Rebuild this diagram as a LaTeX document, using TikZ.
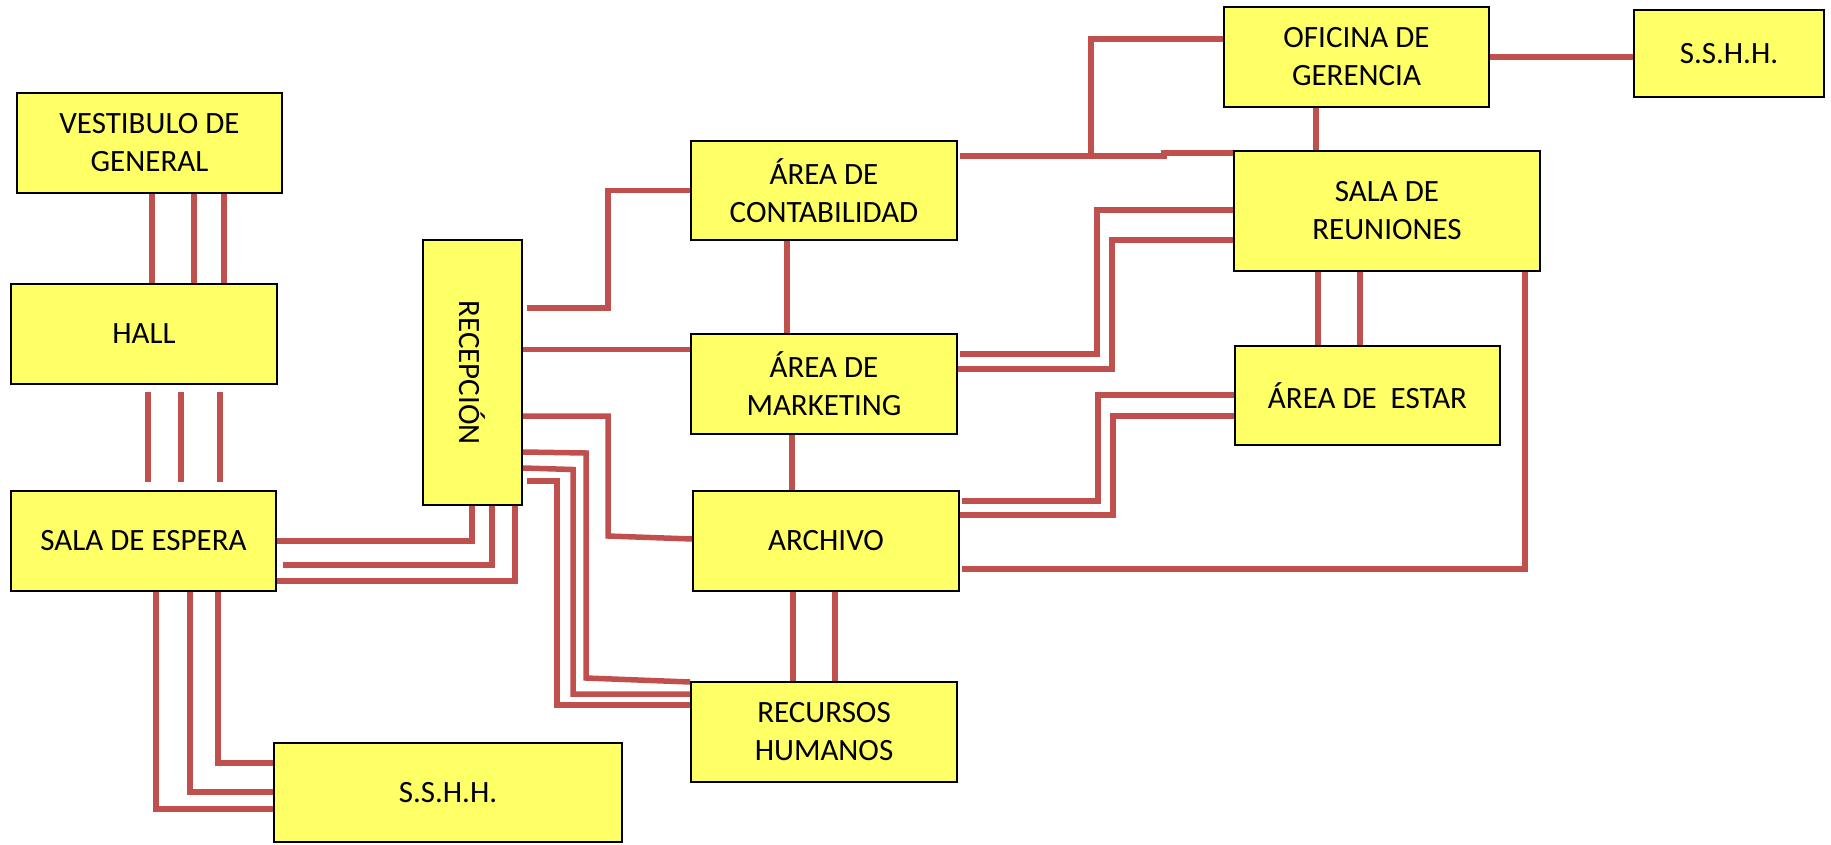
\documentclass[tikz,border=0pt]{standalone}
\usepackage{fontspec}
\setmainfont{Carlito}
\definecolor{boxyellow}{HTML}{FFFF66}
\definecolor{linkred}{HTML}{C0504D}
\begin{document}
\begin{tikzpicture}[x=1pt,y=-1pt,
  room/.style={draw=black,line width=1.8pt,fill=boxyellow,inner sep=0pt,
    align=center,font=\fontsize{31}{38}\selectfont,text=black},
  link/.style={draw=linkred,line width=5.5pt}]
\useasboundingbox (0,0) rectangle (1831,844);
% rooms
\node[room,minimum width=265pt,minimum height=100pt] (vest) at (149.5,143) {VESTIBULO DE\\GENERAL};
\node[room,minimum width=266pt,minimum height=100pt] (hall) at (144,334) {HALL};
\node[room,minimum width=265pt,minimum height=100pt] (espera) at (143.5,541) {SALA DE ESPERA};
\node[room,minimum width=348pt,minimum height=99pt] (sshhA) at (448,792.5) {S.S.H.H.};
\node[room,minimum width=99pt,minimum height=265pt] (recep) at (472.5,372.5) {};
\node[rotate=-90,font=\fontsize{31}{38}\selectfont] (receptext) at (recep.center) {RECEPCIÓN};
\node[room,minimum width=266pt,minimum height=99pt] (contab) at (824,190.5) {ÁREA DE\\CONTABILIDAD};
\node[room,minimum width=266pt,minimum height=100pt] (market) at (824,384) {ÁREA DE\\MARKETING};
\node[room,minimum width=266pt,minimum height=100pt] (archivo) at (826,541) {ARCHIVO};
\node[room,minimum width=266pt,minimum height=100pt] (rrhh) at (824,732) {RECURSOS\\HUMANOS};
\node[room,minimum width=265pt,minimum height=100pt] (geren) at (1356.5,57) {OFICINA DE\\GERENCIA};
\node[room,minimum width=190pt,minimum height=87pt] (sshhB) at (1729,53.5) {S.S.H.H.};
\node[room,minimum width=306pt,minimum height=120pt] (reun) at (1387,211) {SALA DE\\REUNIONES};
\node[room,minimum width=265pt,minimum height=99pt] (estar) at (1367.5,395.5) {ÁREA DE\ \ ESTAR};
% links on the left column
\foreach \x in {152,194,224} \draw[link] (\x,0 |- vest.south) -- (\x,0 |- hall.north);
\foreach \x in {148,181,220} \draw[link,shorten <=7pt,shorten >=8pt] (\x,0 |- hall.south) -- (\x,0 |- espera.north);
% sala de espera -> recepcion
\draw[link] (espera.east) -| (472,0 |- recep.south);
\draw[link] ([xshift=6pt]espera.east |- 0,565) -| (492,0 |- recep.south);
\draw[link] (espera.east |- 0,581) -| (515,0 |- recep.south);
% sala de espera -> s.s.h.h.
\draw[link] (218,0 |- espera.south) |- (sshhA.west |- 0,763);
\draw[link] (190,0 |- espera.south) |- (sshhA.west |- 0,792);
\draw[link] (156,0 |- espera.south) |- (sshhA.west |- 0,809);
% recepcion -> areas
\draw[link] ([xshift=4pt]recep.east |- 0,308) -| (608,190.5) -- (contab.west);
\draw[link] (recep.east |- 0,349.5) -- (market.west |- 0,349.5);
\draw[link] (recep.east |- 0,416) -| (608,536) -- (archivo.west |- 0,539);
\draw[link] (recep.east |- 0,452) -- (586,453) -- (586,678) -- (rrhh.west |- 0,682);
\draw[link] (recep.east |- 0,468) -- (573,469.5) -- (573,694) -- (rrhh.west |- 0,694);
\draw[link] ([xshift=4pt]recep.east |- 0,481) -- (557,481) -- (557,705) -- (rrhh.west |- 0,705);
% central column
\draw[link] (787,0 |- contab.south) -- (787,0 |- market.north);
\draw[link] (792,0 |- market.south) -- (792,0 |- archivo.north);
\draw[link] (793,0 |- archivo.south) -- (793,0 |- rrhh.north);
\draw[link] (835,0 |- archivo.south) -- (835,0 |- rrhh.north);
% contabilidad -> gerencia / reuniones
\draw[link] ([xshift=2pt]contab.east |- 0,156) -- (1164,156) -- (1164,153) -- (reun.west |- 0,153);
\draw[link] (1091,156) |- (geren.west |- 0,39);
\draw[link] (geren.east) -- (sshhB.west |- geren.east);
\draw[link] (1316,0 |- geren.south) -- (1316,0 |- reun.north);
% marketing -> reuniones
\draw[link] ([xshift=2pt]market.east |- 0,354) -| (1097,210) -- (reun.west |- 0,210);
\draw[link] (market.east |- 0,369) -| (1112,240) -- (reun.west |- 0,240);
% archivo -> estar / reuniones
\draw[link] ([xshift=2pt]archivo.east |- 0,501) -| (1098,395) -- (estar.west |- 0,395);
\draw[link] (archivo.east |- 0,515) -| (1113,416) -- (estar.west |- 0,416);
\draw[link] ([xshift=2pt]archivo.east |- 0,569) -| (1525,0 |- reun.south);
% reuniones -> estar
\draw[link] (1318,0 |- reun.south) -- (1318,0 |- estar.north);
\draw[link] (1360,0 |- reun.south) -- (1360,0 |- estar.north);
\end{tikzpicture}
\end{document}
